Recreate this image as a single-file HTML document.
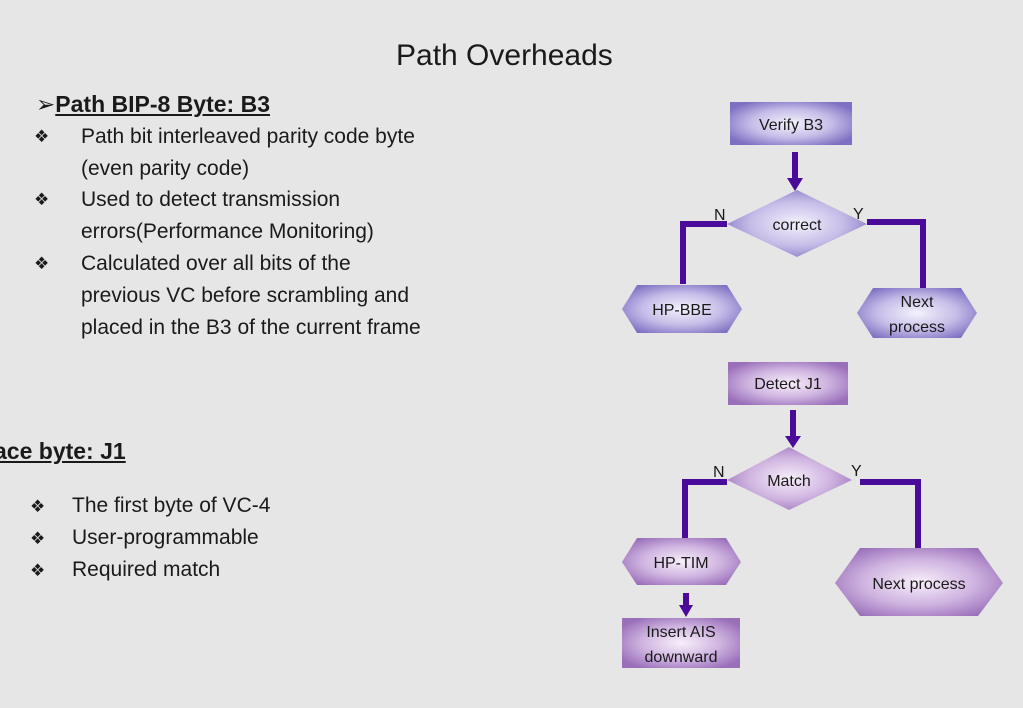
<!DOCTYPE html>
<html><head><meta charset="utf-8"><style>
body{margin:0;width:1023px;height:708px;background:#e6e6e6;overflow:hidden;position:relative;font-family:"Liberation Sans",sans-serif;color:#1a1a1a}
.t{position:absolute;white-space:nowrap;font-size:21px;line-height:32px}
.b{position:absolute;font-size:17px;white-space:nowrap}
</style></head><body>
<div class="t" style="left:396px;top:38px;font-size:30px;line-height:36px;">Path Overheads</div>
<div class="t" style="left:36px;top:88px;font-size:23px;font-weight:bold;"><span style="font-weight:normal">➢</span><u>Path BIP-8 Byte: B3</u></div>
<div class="b" style="left:34px;top:127px">❖</div>
<div class="t" style="left:81px;top:121px">Path bit interleaved parity code byte</div>
<div class="t" style="left:81px;top:153px">(even parity code)</div>
<div class="b" style="left:34px;top:190px">❖</div>
<div class="t" style="left:81px;top:184px">Used to detect transmission</div>
<div class="t" style="left:81px;top:216px">errors(Performance Monitoring)</div>
<div class="b" style="left:34px;top:254px">❖</div>
<div class="t" style="left:81px;top:248px">Calculated over all bits of the</div>
<div class="t" style="left:81px;top:280px">previous VC before scrambling and</div>
<div class="t" style="left:81px;top:312px">placed in the B3 of the current frame</div>
<div class="t" style="left:-6px;top:435px;font-size:23px;font-weight:bold;"><u>ace byte: J1</u></div>
<div class="b" style="left:30px;top:497px">❖</div>
<div class="t" style="left:72px;top:490px">The first byte of VC-4</div>
<div class="b" style="left:30px;top:529px">❖</div>
<div class="t" style="left:72px;top:522px">User-programmable</div>
<div class="b" style="left:30px;top:561px">❖</div>
<div class="t" style="left:72px;top:554px">Required match</div>

<svg width="1023" height="708" style="position:absolute;left:0;top:0" font-family="Liberation Sans, sans-serif" font-size="16" fill="#1a1a1a">
<defs>
<radialGradient id="g1" cx="50%" cy="50%" r="60%"><stop offset="0" stop-color="#f4f2fc"/><stop offset="0.55" stop-color="#c6bde8"/><stop offset="1" stop-color="#7e6fc2"/></radialGradient>
<radialGradient id="g2" cx="50%" cy="50%" r="60%"><stop offset="0" stop-color="#f7effa"/><stop offset="0.55" stop-color="#cfb4e0"/><stop offset="1" stop-color="#9a6fba"/></radialGradient>
</defs>
<g stroke="#4a0a9a" stroke-width="6" fill="none">
<line x1="795" y1="152" x2="795" y2="180"/>
<polyline points="727,224 683,224 683,284"/>
<polyline points="867,222 923,222 923,289"/>
<line x1="793" y1="410" x2="793" y2="438"/>
<polyline points="727,482 685,482 685,548"/>
<polyline points="860,482 918,482 918,548"/>
<line x1="686" y1="593" x2="686" y2="608"/>
</g>
<g fill="#4a0a9a">
<polygon points="787,178 803,178 795,191"/>
<polygon points="785,436 801,436 793,448"/>
<polygon points="679,605 693,605 686,617"/>
</g>
<rect x="730" y="102" width="122" height="43" fill="url(#g1)"/>
<text x="791" y="130" text-anchor="middle">Verify B3</text>
<polygon points="727,224 797,190 867,224 797,257" fill="url(#g1)"/>
<text x="797" y="230" text-anchor="middle">correct</text>
<text x="714" y="220">N</text><text x="853" y="219">Y</text>
<polygon points="622,309 637,285 727,285 742,309 727,333 637,333" fill="url(#g1)"/>
<text x="682" y="315" text-anchor="middle">HP-BBE</text>
<polygon points="857,313 873,288 961,288 977,313 961,338 873,338" fill="url(#g1)"/>
<text x="917" y="307" text-anchor="middle">Next</text>
<text x="917" y="332" text-anchor="middle">process</text>

<rect x="728" y="362" width="120" height="43" fill="url(#g2)"/>
<text x="788" y="389" text-anchor="middle">Detect J1</text>
<polygon points="727,480 789,447 852,480 789,510" fill="url(#g2)"/>
<text x="789" y="486" text-anchor="middle">Match</text>
<text x="713" y="477">N</text><text x="851" y="476">Y</text>
<polygon points="622,562 637,538 726,538 741,562 726,585 637,585" fill="url(#g2)"/>
<text x="681" y="568" text-anchor="middle">HP-TIM</text>
<polygon points="835,583 860,548 978,548 1003,583 978,616 860,616" fill="url(#g2)"/>
<text x="919" y="589" text-anchor="middle">Next process</text>
<rect x="622" y="618" width="118" height="50" fill="url(#g2)"/>
<text x="681" y="637" text-anchor="middle">Insert AIS</text>
<text x="681" y="662" text-anchor="middle">downward</text>
</svg>
</body></html>
